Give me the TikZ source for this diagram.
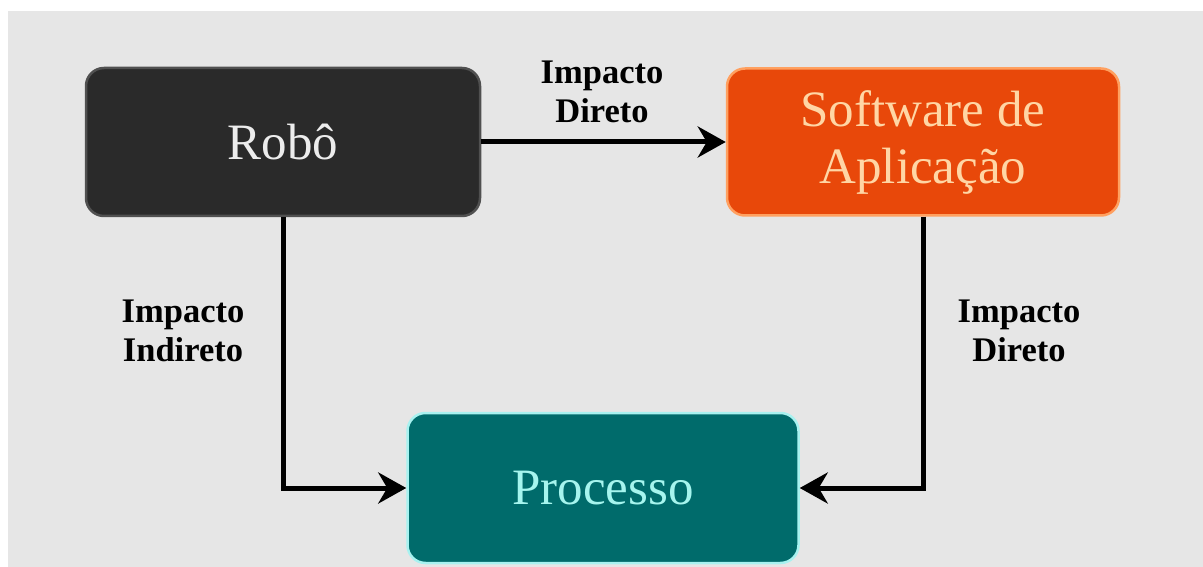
\documentclass[tikz,border=0pt]{standalone}
\usepackage{fontspec}
\setmainfont{Liberation Serif}
\usetikzlibrary{arrows.meta}
\definecolor{bggray}{HTML}{E6E6E6}
\definecolor{robofill}{HTML}{2A2A2A}
\definecolor{roboedge}{HTML}{505050}
\definecolor{robotext}{HTML}{ECECEC}
\definecolor{softfill}{HTML}{E8480A}
\definecolor{softedge}{HTML}{FFA060}
\definecolor{softtext}{HTML}{FFD6A5}
\definecolor{procfill}{HTML}{006B6B}
\definecolor{procedge}{HTML}{A8F2F0}
\definecolor{proctext}{HTML}{A6F5EE}
\tikzset{
  boxnode/.style={rectangle, rounded corners=18pt, line width=2.5pt, inner sep=0pt, align=center,
    font=\fontsize{51}{57}\selectfont},
  lbl/.style={align=center, inner sep=0pt, font=\bfseries\fontsize{34.5}{39}\selectfont, text=black},
  conn/.style={line width=5pt, -{Stealth[length=28pt,width=31pt,inset=9pt]}}
}
\begin{document}
\begin{tikzpicture}[x=1pt,y=-1pt]
\useasboundingbox (0,0) rectangle (1203,567);
\fill[white] (0,0) rectangle (1203,567);
\fill[bggray] (8,11) rectangle (1203,567);
\node[boxnode, fill=robofill, draw=roboedge, text=robotext, minimum width=394pt, minimum height=148pt] (robo) at (283,142) {Robô};
\node[boxnode, fill=softfill, draw=softedge, text=softtext, minimum width=392pt, minimum height=147pt] (soft) at (923,142) {Software de\\Aplicação};
\node[boxnode, fill=procfill, draw=procedge, text=proctext, minimum width=391pt, minimum height=150pt] (proc) at (603,488) {Processo};
\draw[conn] (robo.east) -- (soft.west);
\draw[conn] (robo.south) |- (proc.west);
\draw[conn] (soft.south) |- (proc.east);
\node[lbl] (l1) at (602,92) {Impacto\\Direto};
\node[lbl] (l2) at (183,331) {Impacto\\Indireto};
\node[lbl] (l3) at (1019,331) {Impacto\\Direto};
\end{tikzpicture}
\end{document}
